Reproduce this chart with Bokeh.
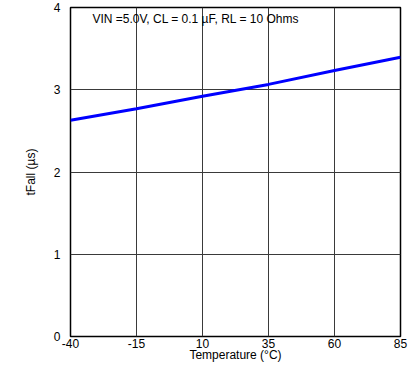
from bokeh.plotting import figure
from bokeh.models import Range1d, FixedTicker, Label
from bokeh.embed import file_html
from bokeh.resources import INLINE

# data
temperature = [-40, -15, 10, 35, 60, 85]
tfall_us = [2.63, 2.77, 2.92, 3.065, 3.235, 3.395]
x_ticks = [-40, -15, 10, 35, 60, 85]
y_ticks = [0, 1, 2, 3, 4]
annotation = "VIN =5.0V, CL = 0.1 µF, RL = 10 Ohms"
ann_x, ann_y = -31.7, 3.86
tag_x, tag_y = 88.6, -0.42

FONT = "Liberation Sans"

p = figure(width=419, height=376, output_backend="svg", toolbar_location=None,
           x_range=Range1d(-40, 85), y_range=Range1d(0, 4),
           min_border_left=70, min_border_right=19, min_border_top=7, min_border_bottom=40)

p.line(temperature, tfall_us, line_color="#0000FF", line_width=3)

p.outline_line_color = "black"
p.outline_line_width = 1.5
p.background_fill_color = "white"
p.border_fill_color = "white"

for ax in (p.xaxis, p.yaxis):
    ax.axis_line_color = None
    ax.major_tick_line_color = None
    ax.minor_tick_line_color = None
    ax.major_label_text_font = FONT
    ax.major_label_text_font_size = "12px"
    ax.major_label_text_color = "black"
    ax.axis_label_text_font = FONT
    ax.axis_label_text_font_size = "12px"
    ax.axis_label_text_font_style = "normal"
    ax.axis_label_text_color = "black"

p.xaxis.ticker = FixedTicker(ticks=x_ticks)
p.yaxis.ticker = FixedTicker(ticks=y_ticks)
p.xaxis.major_label_overrides = {t: str(t) for t in x_ticks}
p.xaxis.axis_label = "Temperature (°C)"
p.yaxis.axis_label = "tFall (µs)"
p.xaxis.major_label_standoff = -4
p.xaxis.axis_label_standoff = -3
p.yaxis.major_label_standoff = 4
p.yaxis.axis_label_standoff = 13

p.xgrid.ticker = FixedTicker(ticks=x_ticks)
p.ygrid.ticker = FixedTicker(ticks=y_ticks)
for g in (p.xgrid, p.ygrid):
    g.grid_line_color = "#3a3a3a"
    g.grid_line_width = 1

p.add_layout(Label(x=ann_x, y=ann_y, text=annotation, text_font=FONT,
                   text_font_size="12px", text_baseline="middle", text_color="black"))
p.add_layout(Label(x=tag_x, y=tag_y, text="G000", text_font=FONT,
                   text_font_size="7px", text_baseline="middle", text_align="center",
                   text_color="#999999"))

open("out.html", "w").write(file_html(p, INLINE))
